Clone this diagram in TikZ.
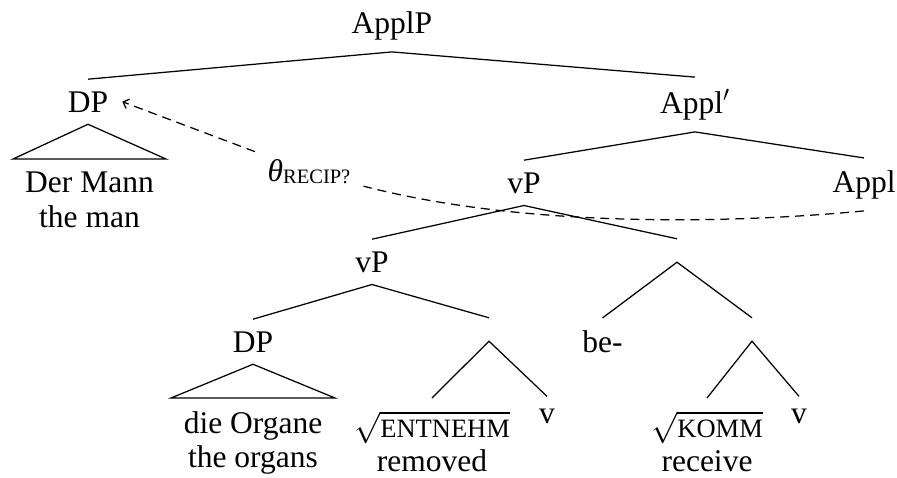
\RequirePackage{fix-cm}
\documentclass[tikz,border=0pt]{standalone}
\usepackage{fontspec}
\setmainfont{Liberation Serif}
\usetikzlibrary{arrows.meta}
\newcommand{\fsc}[1]{{\fontsize{26.5}{26.5}\selectfont #1}}
\newcommand{\fscs}[1]{{\fontsize{20.5}{20.5}\selectfont #1}}
\begin{document}
\begin{tikzpicture}[x=1pt,y=-1pt,
  font=\fontsize{31.5}{34.5}\selectfont,
  lab/.style={anchor=base, inner xsep=14pt, inner ysep=12pt},
  hole/.style={inner sep=0pt, minimum height=23pt, minimum width=0pt},
  leaf/.style={anchor=north, align=center, inner sep=0pt},
  branch/.style={line width=1.25pt},
  link/.style={line width=1.25pt, dash pattern=on 9pt off 6pt}]
\useasboundingbox (0,0) rectangle (897,477);
% labelled nodes
\node[lab] (ApplP) at (392,33) {ApplP};
\node[lab] (DP1) at (88,112) {DP};
\node[lab] (Abar) at (695,113) {Appl$'$};
\node[lab] (vP2) at (524,193) {vP};
\node[lab] (Appl) at (864,192) {Appl};
\node[lab] (vP3) at (372,272) {vP};
\node[lab] (DP3) at (253,352) {DP};
\node[lab] (be) at (602.5,352) {be-};
\node[lab] (v1) at (547,423) {v};
\node[lab] (v2) at (799,423) {v};
% empty nodes
\node[hole] (h1) at (677,250.5) {};
\node[hole] (h2) at (489,329.5) {};
\node[hole] (h3) at (752,329.5) {};
% leaves
\node[leaf] (man) at (89.5,172) {Der Mann\\the man};
\node[leaf] (org) at (253,411) {die Organe\\the organs};
\node[leaf] (ent) at (432,411) {$\sqrt{\hbox{\fsc{ENTNEHM}}}$\\[-1pt]removed};
\node[leaf] (komm) at (707,411) {$\sqrt{\hbox{\fsc{KOMM}}}$\\[-1pt]receive};
\coordinate (entTop) at ([yshift=13pt]ent.north);
\coordinate (kommTop) at ([yshift=13pt]komm.north);
% triangles
\coordinate (t1l) at (13,159);
\coordinate (t1r) at (166,159);
\coordinate (t3l) at (171,398);
\coordinate (t3r) at (335,398);
\draw[branch] (t1l) -- (DP1.south) -- (t1r) -- cycle;
\draw[branch] (t3l) -- (DP3.south) -- (t3r) -- cycle;
% branches
\draw[branch] (DP1.north) -- (ApplP.south) -- (Abar.north);
\draw[branch] (vP2.north) -- (Abar.south) -- (Appl.north);
\draw[branch] (vP3.north) -- (vP2.south) -- (h1.north);
\draw[branch] (DP3.north) -- (vP3.south) -- (h2.north);
\draw[branch] (be.north) -- (h1.south) -- (h3.north);
\draw[branch] (entTop) -- (h2.south) -- (v1.north);
\draw[branch] (kommTop) -- (h3.south) -- (v2.north);
% dashed link
\node[inner xsep=13pt, inner ysep=8pt] (theta) at (309,172) {\textit{θ}\raisebox{-2pt}{\fscs{RECIP?}}};
\draw[link] (Appl.south) .. controls (715,225) and (517,226) .. (theta);
\draw[link,-{Straight Barb[length=5pt,width=10pt]}] (theta) -- (DP1.east);
\end{tikzpicture}
\end{document}
